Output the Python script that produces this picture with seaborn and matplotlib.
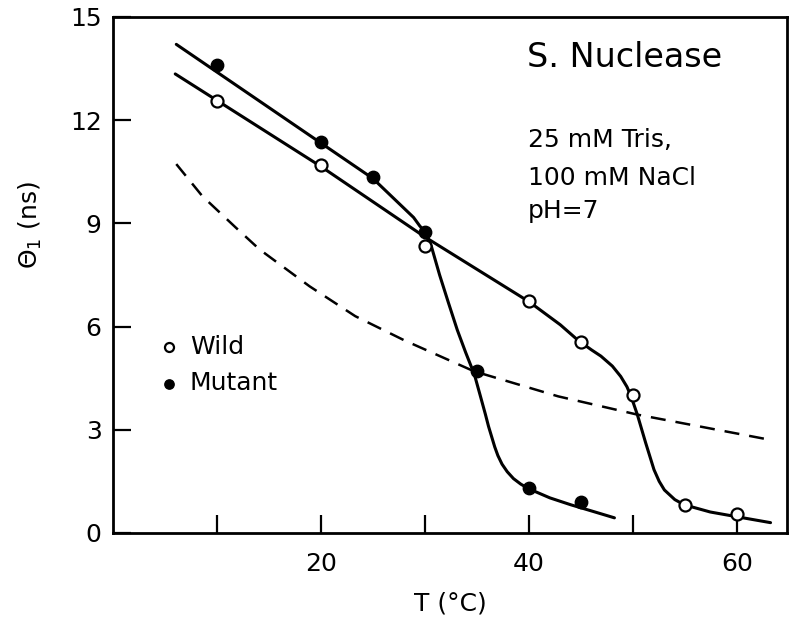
import matplotlib
matplotlib.use("Agg")
import matplotlib.pyplot as plt
import seaborn as sns

# ---- data ----
wild_T = [10, 20, 30, 40, 45, 50, 55, 60]
wild_theta = [12.55, 10.7, 8.35, 6.75, 5.55, 4.0, 0.82, 0.55]

mutant_T = [10, 20, 25, 30, 35, 40, 45]
mutant_theta = [13.6, 11.35, 10.35, 8.75, 4.7, 1.3, 0.9]

wild_curve_T = [6.0, 20.0, 30.0, 40.0, 43.0, 44.7, 46.0, 46.9, 48.0, 48.8, 49.4, 49.8,
                50.4, 51.2, 52.0, 52.5, 53.0, 54.0, 54.9, 57.4, 60.0, 63.2]
wild_curve_theta = [13.34, 10.65, 8.6, 6.72, 6.05, 5.6, 5.32, 5.14, 4.85, 4.55, 4.25, 3.97,
                    3.44, 2.62, 1.84, 1.5, 1.25, 0.97, 0.82, 0.61, 0.47, 0.3]

mutant_curve_T = [6.1, 25.0, 28.9, 29.5, 30.0, 30.6, 31.4, 32.25, 33.1, 33.9, 34.75,
                  35.3, 35.8, 36.1, 36.4, 36.7, 37.0, 37.4, 37.9, 38.5, 39.2, 40.0,
                  42.0, 44.0, 46.0, 48.2]
mutant_curve_theta = [14.2, 10.3, 9.17, 8.92, 8.76, 8.34, 7.5, 6.69, 5.9, 5.25, 4.6,
                      4.0, 3.45, 3.1, 2.8, 2.5, 2.25, 2.0, 1.78, 1.58, 1.42, 1.28,
                      1.02, 0.82, 0.64, 0.44]

dashed_T = [6.1, 8.6, 11.8, 14.1, 18.9, 23.3, 28.0, 34.7, 42.8, 50.4, 63.1]
dashed_theta = [10.72, 9.79, 8.88, 8.24, 7.17, 6.3, 5.6, 4.7, 3.97, 3.44, 2.71]

x_ticks = [10, 20, 30, 40, 50, 60]
x_ticklabels = ["", "20", "", "40", "", "60"]
y_ticks = [0, 3, 6, 9, 12, 15]

annot_title = "S. Nuclease"
annot_lines = ["25 mM Tris,", "100 mM NaCl", "pH=7"]

# ---- style ----
sns.set_style("ticks")
plt.rcParams["font.family"] = ["DejaVu Sans"]
plt.rcParams["mathtext.fontset"] = "dejavusans"
plt.rcParams["text.color"] = "black"
plt.rcParams["axes.labelcolor"] = "black"

fig = plt.figure(figsize=(8, 6.23), dpi=100)
ax = fig.add_axes([0.141, 0.1445, 0.843, 0.8285])

lw = 2.2
sns.lineplot(x=wild_curve_T, y=wild_curve_theta, sort=False, estimator=None,
             color="black", linewidth=lw, ax=ax, zorder=2)
sns.lineplot(x=mutant_curve_T, y=mutant_curve_theta, sort=False, estimator=None,
             color="black", linewidth=lw, ax=ax, zorder=2)
sns.lineplot(x=dashed_T, y=dashed_theta, sort=False, estimator=None,
             color="black", linewidth=1.8, linestyle=(0, (6, 4)), ax=ax, zorder=2)

sns.scatterplot(x=wild_T, y=wild_theta, s=75, color="white", edgecolor="black",
                linewidth=1.6, ax=ax, zorder=4, label="Wild")
sns.scatterplot(x=mutant_T, y=mutant_theta, s=80, color="black", edgecolor="black",
                linewidth=1.0, ax=ax, zorder=4, label="Mutant")

ax.set_xlim(0, 64.8)
ax.set_ylim(0, 15)
ax.set_xticks(x_ticks)
ax.set_xticklabels(x_ticklabels)
ax.set_yticks(y_ticks)
ax.tick_params(axis="both", direction="in", length=13, width=1.6,
               labelsize=18, color="black", labelcolor="black")
ax.tick_params(axis="x", pad=13.5)
ax.tick_params(axis="y", pad=8)
for sp in ax.spines.values():
    sp.set_visible(True)
    sp.set_linewidth(2.0)
    sp.set_color("black")

ax.set_xlabel("T (°C)", fontsize=18, labelpad=11)
ax.set_ylabel("")
fig.text(0.038, 0.639, r"$\Theta_1$ (ns)", rotation=90, ha="center", va="center",
         fontsize=18)

leg = ax.legend(loc="center left", bbox_to_anchor=(0.1825, 0.414),
                bbox_transform=fig.transFigure, frameon=False, fontsize=18,
                handlelength=0.8, handletextpad=0.45, labelspacing=0.5,
                borderpad=0, markerscale=0.75)

fig.text(527 / 800, 1 - 67 / 623, annot_title, fontsize=24, ha="left", va="baseline")
baselines = [147, 185, 218]
for line, b in zip(annot_lines, baselines):
    fig.text(528 / 800, 1 - b / 623, line, fontsize=18, ha="left", va="baseline")

fig.savefig("out.png", dpi=100)
